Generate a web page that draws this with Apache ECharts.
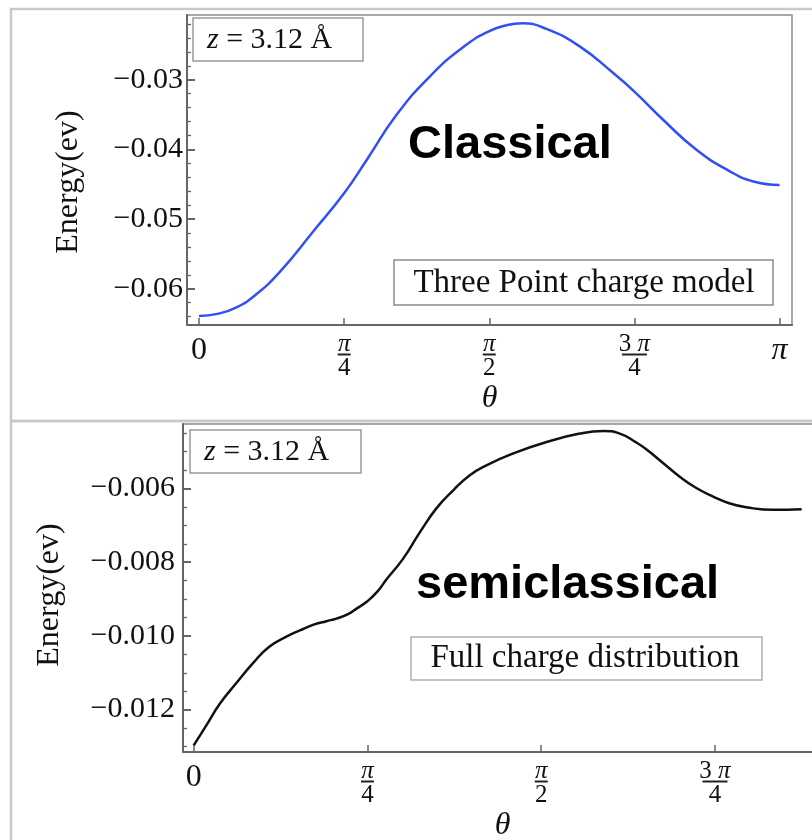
<!DOCTYPE html>
<html>
<head>
<meta charset="utf-8">
<script src="https://cdn.jsdelivr.net/npm/echarts@6/dist/echarts.min.js"></script>
<style>
html,body{margin:0;padding:0;background:#fff;}
#chart{width:812px;height:840px;}
</style>
</head>
<body>
<div id="chart"></div>
<script>
// ---------------- data ----------------
const PI = Math.PI;
// Classical (three point charge model)
const thetaTop = [0, 0.10, 0.20, 0.30, 0.44, 0.62, 0.785, 0.91, 1.07, 1.25, 1.43, 1.571, 1.66, 1.75, 1.88, 2.06, 2.24, 2.356, 2.51, 2.69, 2.87, 3.00, 3.1416];
const energyTop = [-0.0639, -0.0636, -0.0627, -0.0610, -0.0575, -0.0517, -0.0463, -0.0414, -0.0350, -0.0295, -0.0253, -0.0230, -0.0222, -0.0219, -0.0227, -0.0252, -0.0290, -0.0317, -0.0357, -0.0400, -0.0431, -0.0446, -0.0451];
// Semiclassical (full charge distribution)
const thetaBottom = [0, 0.06, 0.118, 0.19, 0.268, 0.34, 0.419, 0.48, 0.539, 0.60, 0.645, 0.70, 0.736, 0.785, 0.83, 0.871, 0.946, 1.022, 1.097, 1.173, 1.248, 1.323, 1.444, 1.595, 1.745, 1.851, 1.926, 2.0, 2.047, 2.12, 2.197, 2.27, 2.348, 2.42, 2.499, 2.619, 2.748];
const energyBottom = [-0.01297, -0.0124, -0.01184, -0.0113, -0.01074, -0.0103, -0.01002, -0.00985, -0.0097, -0.0096, -0.00953, -0.0094, -0.00926, -0.00906, -0.0088, -0.00847, -0.00791, -0.00719, -0.00654, -0.00605, -0.00564, -0.00537, -0.00505, -0.00474, -0.00451, -0.00444, -0.00451, -0.00475, -0.00494, -0.0053, -0.00568, -0.00598, -0.00622, -0.0064, -0.00651, -0.00658, -0.00656];

// tick values and labels
const xTickValuesTop = [0, PI/4, PI/2, 3*PI/4, PI];
const xTickLabelsTop = ['0', 'π/4', 'π/2', '3π/4', 'π'];
const xTickValuesBottom = [0, PI/4, PI/2, 3*PI/4];
const xTickLabelsBottom = ['0', 'π/4', 'π/2', '3π/4'];
const yTicksTop = [-0.06, -0.05, -0.04, -0.03];
const yMinorTop = [-0.064, -0.062, -0.058, -0.056, -0.054, -0.052, -0.048, -0.046, -0.044, -0.042, -0.038, -0.036, -0.034, -0.032, -0.028, -0.026, -0.024, -0.022];
const yTicksBottom = [-0.012, -0.010, -0.008, -0.006];
const yMinorBottom = [-0.013, -0.0125, -0.0115, -0.011, -0.0105, -0.0095, -0.009, -0.0085, -0.0075, -0.007, -0.0065, -0.0055, -0.005, -0.0045];

const labelTop = 'Classical';
const labelBottom = 'semiclassical';
const boxTop = 'Three Point charge model';
const boxBottom = 'Full charge distribution';
const zText = '{i|z} = 3.12 Å';
const yName = 'Energy(ev)';
const xName = 'θ';

// ---------------- helpers ----------------
const SERIF = '"Liberation Serif", "Times New Roman", serif';
const SANS = '"Liberation Sans", Arial, sans-serif';
const AXIS = '#666666';

function xFormatter(values, labels) {
  return function (v) {
    let idx = values.findIndex(t => Math.abs(t - v) < 1e-6);
    if (idx < 0) return '';
    const s = labels[idx];
    if (s.indexOf('/') < 0) {
      return s === 'π' ? '{bigi|π}' : '{big|' + s + '}';
    }
    const parts = s.split('/');
    const num = parts[0].length > 1 ? '{num|' + parts[0].replace('π', '') + '}{numi| π}' : '{numi|π}';
    const bar = parts[0].length > 1 ? '{barw| }' : '{bar| }';
    return num + '\n' + bar + '\n{den|' + parts[1] + '}';
  };
}
const xRich = {
  big: {fontFamily: SERIF, fontSize: 32, lineHeight: 30, color: '#111'},
  bigi: {fontFamily: SERIF, fontStyle: 'italic', fontSize: 32, lineHeight: 30, color: '#111'},
  num: {fontFamily: SERIF, fontSize: 25, lineHeight: 16, color: '#111'},
  numi: {fontFamily: SERIF, fontStyle: 'italic', fontSize: 25, lineHeight: 16, color: '#111'},
  den: {fontFamily: SERIF, fontSize: 25, lineHeight: 22, color: '#111'},
  bar: {width: 13, height: 2, lineHeight: 5, backgroundColor: '#222'},
  barw: {width: 25, height: 2, lineHeight: 5, backgroundColor: '#222'}
};
function yFmt(d) { return function (v) { return '\u2212' + Math.abs(v).toFixed(d); }; }

function xAxisCfg(grid, min, max, values, labels, gap) {
  return {
    gridIndex: grid, type: 'value', min: min, max: max,
    axisLine: {show: true, onZero: false, lineStyle: {color: AXIS, width: 2}},
    axisTick: {show: true, inside: true, length: 7, customValues: values, lineStyle: {color: AXIS, width: 1.5}},
    axisLabel: {show: true, customValues: values, formatter: xFormatter(values, labels), rich: xRich, margin: 11, verticalAlign: 'top'},
    splitLine: {show: false},
    name: xName, nameLocation: 'middle', nameGap: gap,
    nameTextStyle: {fontFamily: SERIF, fontStyle: 'italic', fontSize: 32, color: '#111'}
  };
}
function yAxisMajor(grid, min, max, values, dec, margin) {
  return {
    gridIndex: grid, type: 'value', position: 'left', min: min, max: max,
    axisLine: {show: true, onZero: false, lineStyle: {color: AXIS, width: 2}},
    axisTick: {show: true, inside: true, length: 8, customValues: values, lineStyle: {color: '#555', width: 1.8}},
    axisLabel: {show: true, customValues: values, formatter: yFmt(dec), fontFamily: SERIF, fontSize: 30, color: '#111', margin: margin},
    splitLine: {show: false}
  };
}
function yAxisMinor(grid, min, max, values) {
  return {
    gridIndex: grid, type: 'value', position: 'left', offset: 0, min: min, max: max,
    axisLine: {show: false, onZero: false},
    axisTick: {show: true, inside: true, length: 4, customValues: values, lineStyle: {color: AXIS, width: 1.3}},
    axisLabel: {show: false},
    splitLine: {show: false}
  };
}

const chart = echarts.init(document.getElementById('chart'), null, {renderer: 'canvas'});
const option = {
  animation: false,
  backgroundColor: '#ffffff',
  grid: [
    {left: 187, top: 15, width: 605, height: 310, show: true, borderColor: '#8c8c8c', borderWidth: 1.5, outerBoundsMode: 'none'},
    {left: 183, top: 424, width: 639, height: 328, show: true, borderColor: '#8c8c8c', borderWidth: 1.5, outerBoundsMode: 'none'}
  ],
  xAxis: [
    xAxisCfg(0, -0.065, 3.209, xTickValuesTop, xTickLabelsTop, 58),
    xAxisCfg(1, -0.0484, 2.84, xTickValuesBottom, xTickLabelsBottom, 58)
  ],
  yAxis: [
    yAxisMajor(0, -0.0652, -0.0207, yTicksTop, 2, 4),
    yAxisMinor(0, -0.0652, -0.0207, yMinorTop),
    yAxisMajor(1, -0.01315, -0.00425, yTicksBottom, 3, 8),
    yAxisMinor(1, -0.01315, -0.00425, yMinorBottom)
  ],
  series: [
    {type: 'line', xAxisIndex: 0, yAxisIndex: 0, showSymbol: false, smooth: 0.5,
     lineStyle: {color: '#3050f5', width: 2.5},
     data: thetaTop.map((t, i) => [t, energyTop[i]])},
    {type: 'line', xAxisIndex: 1, yAxisIndex: 2, showSymbol: false, smooth: 0.5,
     lineStyle: {color: '#111111', width: 2.5},
     data: thetaBottom.map((t, i) => [t, energyBottom[i]])}
  ],
  graphic: [
    // outer panel frames
    {type: 'rect', shape: {x: 11, y: 9, width: 806, height: 412}, style: {fill: 'none', stroke: '#c9c9c9', lineWidth: 2.5}, z: 0},
    {type: 'rect', shape: {x: 11, y: 421, width: 806, height: 430}, style: {fill: 'none', stroke: '#c9c9c9', lineWidth: 2.5}, z: 0},
    // z boxes
    {type: 'rect', shape: {x: 193, y: 18, width: 170, height: 43}, style: {fill: '#fff', stroke: '#9a9a9a', lineWidth: 1.5}, z: 10},
    {type: 'text', x: 207, y: 40, style: {text: zText, font: '30px ' + SERIF, fill: '#111', verticalAlign: 'middle',
      rich: {i: {font: 'italic 30px ' + SERIF, fill: '#111'}}}, z: 11},
    {type: 'rect', shape: {x: 190, y: 430, width: 171, height: 43}, style: {fill: '#fff', stroke: '#9a9a9a', lineWidth: 1.5}, z: 10},
    {type: 'text', x: 204, y: 452, style: {text: zText, font: '30px ' + SERIF, fill: '#111', verticalAlign: 'middle',
      rich: {i: {font: 'italic 30px ' + SERIF, fill: '#111'}}}, z: 11},
    // model boxes
    {type: 'rect', shape: {x: 394, y: 260, width: 379, height: 45}, style: {fill: '#fff', stroke: '#8a8a8a', lineWidth: 1.5}, z: 10},
    {type: 'text', x: 584, y: 283, style: {text: boxTop, font: '33px ' + SERIF, fill: '#111', align: 'center', verticalAlign: 'middle'}, z: 11},
    {type: 'rect', shape: {x: 411, y: 637, width: 351, height: 43}, style: {fill: '#fff', stroke: '#b0b0b0', lineWidth: 1.5}, z: 10},
    {type: 'text', x: 585, y: 658, style: {text: boxBottom, font: '33px ' + SERIF, fill: '#111', align: 'center', verticalAlign: 'middle'}, z: 11},
    // big bold labels
    {type: 'text', x: 408, y: 122, style: {text: labelTop, font: 'bold 47px ' + SANS, fill: '#000', verticalAlign: 'top'}, z: 11},
    {type: 'text', x: 416, y: 562, style: {text: labelBottom, font: 'bold 47px ' + SANS, fill: '#000', verticalAlign: 'top'}, z: 11},
    // y axis names
    {type: 'text', x: 69, y: 182, rotation: Math.PI / 2, style: {text: yName, font: '32px ' + SERIF, fill: '#111', align: 'center', verticalAlign: 'middle'}, z: 11},
    {type: 'text', x: 50, y: 595, rotation: Math.PI / 2, style: {text: yName, font: '32px ' + SERIF, fill: '#111', align: 'center', verticalAlign: 'middle'}, z: 11}
  ]
};
chart.setOption(option);
</script>
</body>
</html>
